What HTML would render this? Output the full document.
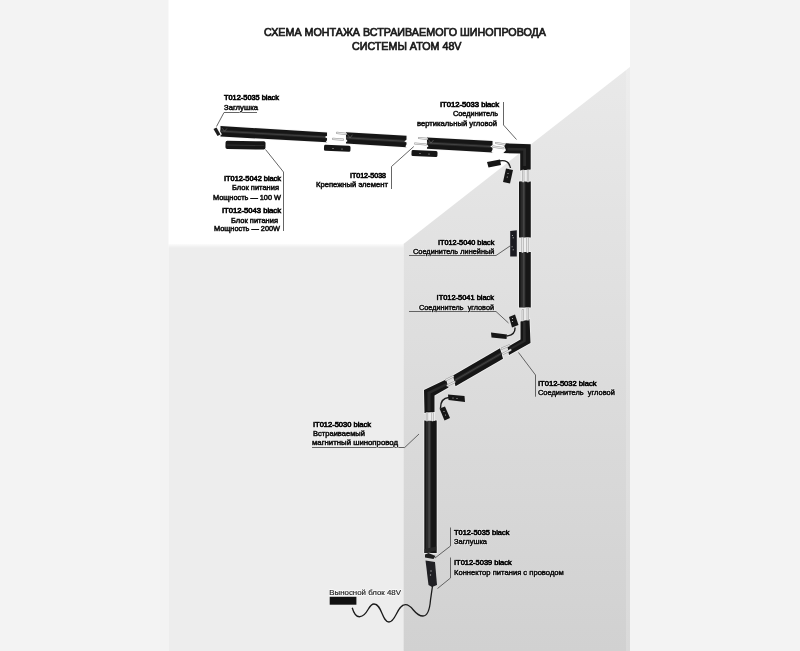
<!DOCTYPE html>
<html><head><meta charset="utf-8"><style>
html,body{margin:0;padding:0;width:800px;height:651px;overflow:hidden;background:#f2f2f2;font-family:"Liberation Sans",sans-serif;}
svg{display:block;will-change:transform}
</style></head><body>
<svg width="800" height="651" viewBox="0 0 800 651">
<defs><linearGradient id="rw" x1="0" y1="0" x2="0" y2="1"><stop offset="0" stop-color="#e9e9e9"/><stop offset="1" stop-color="#d1d1d1"/></linearGradient></defs>
<rect x="0" y="0" width="800" height="651" fill="#f3f3f3"/>
<rect x="168.5" y="0" width="461.5" height="651" fill="#ffffff"/>
<polygon points="168.5,244 403.5,244 403.5,651 168.5,651" fill="#ededed" />
<polygon points="403.5,244 630,67 630,651 403.5,651" fill="url(#rw)"/>
<rect x="626" y="67" width="4" height="584" fill="#ffffff" opacity="0.18"/>
<defs><linearGradient id="sh" x1="0" y1="0" x2="0" y2="1"><stop offset="0" stop-color="#fff" stop-opacity="0.8"/><stop offset="1" stop-color="#fff" stop-opacity="0"/></linearGradient></defs>
<rect x="168.5" y="244" width="235" height="4" fill="url(#sh)"/>
<polyline points="257,112.5 224,112.5 216.5,126.5" fill="none" stroke="#555555" stroke-width="0.9"/>
<polyline points="265.5,149.5 283.5,172 283.5,231" fill="none" stroke="#555555" stroke-width="0.9"/>
<polyline points="413.8,146.5 391.5,166.5 391.5,189" fill="none" stroke="#555555" stroke-width="0.9"/>
<polyline points="503.5,102 503.5,125 516.5,139.5" fill="none" stroke="#555555" stroke-width="0.9"/>
<polyline points="409,255.5 496,255.5 510,246" fill="none" stroke="#555555" stroke-width="0.9"/>
<polyline points="409,311.5 496,311.5 508.5,323" fill="none" stroke="#555555" stroke-width="0.9"/>
<polyline points="518.5,352.5 535.5,375 535.5,396.7" fill="none" stroke="#555555" stroke-width="0.9"/>
<polyline points="312,447.5 404.7,447.5 419,434" fill="none" stroke="#555555" stroke-width="0.9"/>
<polyline points="450.5,527.5 450.5,546 435,558" fill="none" stroke="#555555" stroke-width="0.9"/>
<polyline points="450.5,557.5 450.5,578 437.5,588.5" fill="none" stroke="#555555" stroke-width="0.9"/>
<polygon points="220.5,126 327,132.4 327,142.2 220.5,136.5" fill="none" stroke="#f4f4f4" stroke-width="1.6" stroke-linejoin="round" opacity="0.8"/>
<polygon points="220.5,126 327,132.4 327,142.2 220.5,136.5" fill="#161616" />
<polygon points="220.5,129.78 327,135.928 327,138.476 220.5,132.51" fill="#2a2a2a" />
<polygon points="220.5,130.725 327,136.81 327,137.594 220.5,131.565" fill="#444444" />
<polygon points="327.5,135.536 324.8,137.006 327.5,138.476" fill="#fff" />
<polygon points="327.5,139.75 325.8,141.475 327.5,142.7" fill="#fff" />
<polyline points="222,128.075 224.5,131.25 227,128.375" fill="none" stroke="#6a6a6a" stroke-width="0.6"/>
<polygon points="220,131.775 222,134.137 220,135.5" fill="#fff" />
<polygon points="213.5,129 216.5,127.5 220.5,134.5 217.5,136" fill="#1e1e1e" />
<polygon points="346,132.2 406.5,135.8 406.5,147.2 346,143.6" fill="none" stroke="#f4f4f4" stroke-width="1.6" stroke-linejoin="round" opacity="0.8"/>
<polygon points="346,132.2 406.5,135.8 406.5,147.2 346,143.6" fill="#161616" />
<polygon points="346,136.304 406.5,139.904 406.5,142.868 346,139.268" fill="#2a2a2a" />
<polygon points="346,137.33 406.5,140.93 406.5,141.842 346,138.242" fill="#444444" />
<polygon points="407,139.448 404.3,141.158 407,142.868" fill="#fff" />
<polygon points="407,144.35 405.3,146.275 407,147.7" fill="#fff" />
<polyline points="347.5,134.41 350,137.9 352.5,134.71" fill="none" stroke="#6a6a6a" stroke-width="0.6"/>
<polygon points="345.5,138.47 347.5,141.035 345.5,142.6" fill="#fff" />
<polygon points="427,137.5 492.5,141.1 492.5,152.4 427,148.8" fill="none" stroke="#f4f4f4" stroke-width="1.6" stroke-linejoin="round" opacity="0.8"/>
<polygon points="427,137.5 492.5,141.1 492.5,152.4 427,148.8" fill="#161616" />
<polygon points="427,141.568 492.5,145.168 492.5,148.106 427,144.506" fill="#2a2a2a" />
<polygon points="427,142.585 492.5,146.185 492.5,147.089 427,143.489" fill="#444444" />
<polygon points="493,144.716 490.3,146.411 493,148.106" fill="#fff" />
<polygon points="493,149.575 491.3,151.488 493,152.9" fill="#fff" />
<polyline points="428.5,139.695 431,143.15 433.5,139.995" fill="none" stroke="#6a6a6a" stroke-width="0.6"/>
<polygon points="426.5,143.715 428.5,146.257 426.5,147.8" fill="#fff" />
<polygon points="505.8,143.3 530.7,144.2 530.7,169.4 520.2,170.6 520.2,153.4 503.4,153.1 506,150.3 504.3,146" fill="none" stroke="#f4f4f4" stroke-width="1.6" opacity="0.8"/>
<polygon points="505.8,143.3 530.7,144.2 530.7,169.4 520.2,170.6 520.2,153.4 503.4,153.1 506,150.3 504.3,146" fill="#161616" />
<polygon points="507.5,147.8 526,148.2 526,166 523.2,166 523.2,150.6 507.5,150.4" fill="#2a2a2a" />
<polygon points="519,181.5 519,237.5 530.8,237.5 530.8,181.5" fill="none" stroke="#f4f4f4" stroke-width="1.6" stroke-linejoin="round" opacity="0.8"/>
<polygon points="519,181.5 519,237.5 530.8,237.5 530.8,181.5" fill="#161616" />
<polygon points="520.534,181.5 520.534,237.5 525.49,237.5 525.49,181.5" fill="#2a2a2a" />
<polygon points="522.776,181.5 522.776,237.5 524.546,237.5 524.546,181.5" fill="#444444" />
<polygon points="510.2,231 516.8,230.3 516.8,256.6 510.2,256.4" fill="#1a1a20" />
<circle cx="512.4" cy="235.5" r="0.55" fill="#ccc"/><circle cx="513.2" cy="237.7" r="0.55" fill="#ccc"/><circle cx="512.1" cy="246.8" r="0.55" fill="#ccc"/><circle cx="513.2" cy="249.8" r="0.55" fill="#ccc"/>
<polygon points="519,252 519,307.5 530.8,307.5 530.8,252" fill="none" stroke="#f4f4f4" stroke-width="1.6" stroke-linejoin="round" opacity="0.8"/>
<polygon points="519,252 519,307.5 530.8,307.5 530.8,252" fill="#161616" />
<polygon points="520.534,252 520.534,307.5 525.49,307.5 525.49,252" fill="#2a2a2a" />
<polygon points="522.776,252 522.776,307.5 524.546,307.5 524.546,252" fill="#444444" />
<polygon points="520.5,321.5 529.5,319 530.5,343 509,355 507.5,347 520.5,339.5" fill="none" stroke="#f4f4f4" stroke-width="1.6" opacity="0.8"/>
<polygon points="520.5,321.5 529.5,319 530.5,343 509,355 507.5,347 520.5,339.5" fill="#161616" />
<polygon points="523,322 525.5,321.5 525.8,341.5 509.8,350.6 509.2,348.4 523,340.5" fill="#2a2a2a" />
<polygon points="453,375.5 500,348.2 503,358.8 455.5,386.2" fill="none" stroke="#f4f4f4" stroke-width="1.6" stroke-linejoin="round" opacity="0.8"/>
<polygon points="453,375.5 500,348.2 503,358.8 455.5,386.2" fill="#161616" />
<polygon points="453.9,379.352 501.08,352.016 501.86,354.772 454.55,382.134" fill="#2a2a2a" />
<polygon points="454.125,380.315 501.35,352.97 501.59,353.818 454.325,381.171" fill="#444444" />
<polygon points="424,390 446,379.5 448.5,387.5 434.5,395.5 434.5,412 424.5,413" fill="none" stroke="#f4f4f4" stroke-width="1.6" opacity="0.8"/>
<polygon points="424,390 446,379.5 448.5,387.5 434.5,395.5 434.5,412 424.5,413" fill="#161616" />
<polygon points="427.5,392 446.5,383 447.2,385.2 430.5,393.5 430.5,411 427.5,411" fill="#2a2a2a" />
<polygon points="424.3,420.5 424.3,553 436.7,553 436.7,420.5" fill="none" stroke="#f4f4f4" stroke-width="1.6" stroke-linejoin="round" opacity="0.8"/>
<polygon points="424.3,420.5 424.3,553 436.7,553 436.7,420.5" fill="#161616" />
<polygon points="425.912,420.5 425.912,553 431.12,553 431.12,420.5" fill="#2a2a2a" />
<polygon points="428.268,420.5 428.268,553 430.128,553 430.128,420.5" fill="#444444" />
<polygon points="424.7,549 436.2,546.5 436.2,550.5 424.7,553" fill="#262626" />
<polygon points="425,554.5 428.5,553 435.5,556 433.5,559 425,557.5" fill="#1e1e1e" />
<polygon points="425.5,560.5 435,562 437,585 432,587 428.5,585" fill="#202024" />
<circle cx="431" cy="571" r="0.7" fill="#aaa"/><circle cx="430.5" cy="575" r="0.7" fill="#aaa"/>
<rect x="225.5" y="141" width="40" height="8.3" rx="1.8" fill="#161616" transform="rotate(1 245.5 145)"/>
<polygon points="227,144.5 264,145.2 264,146 227,145.5" fill="#333" />
<rect x="324" y="145.3" width="26.5" height="6" rx="1.5" fill="#161616" transform="rotate(2.5 337 148.3)"/>
<circle cx="333" cy="148.5" r="0.6" fill="#bbb"/><circle cx="342" cy="149" r="0.6" fill="#bbb"/>
<rect x="411.5" y="150.6" width="26" height="6" rx="1.5" fill="#161616" transform="rotate(2.5 424.5 153.6)"/>
<circle cx="420" cy="153.5" r="0.6" fill="#bbb"/><circle cx="429" cy="154" r="0.6" fill="#bbb"/>
<rect x="329.7" y="596.8" width="26.7" height="7.9" fill="#111"/>
<rect x="520.5" y="237.5" width="9" height="14.5" fill="#f2f2f2" opacity="0.75"/>
<rect x="520.5" y="307.5" width="9" height="13" fill="#f2f2f2" opacity="0.6"/>
<rect x="521" y="170" width="9" height="11.5" fill="#f2f2f2" opacity="0.6"/>
<rect x="425.5" y="412.5" width="9.5" height="8.5" fill="#f2f2f2" opacity="0.75"/>
<line x1="337" y1="132.8" x2="346" y2="133.8" stroke="#9a9a9a" stroke-width="2.2" stroke-linecap="round"/><line x1="337" y1="132.8" x2="346" y2="133.8" stroke="#e6e6e6" stroke-width="1.2" stroke-linecap="round"/><line x1="333" y1="138.8" x2="343" y2="139.6" stroke="#9a9a9a" stroke-width="2.2" stroke-linecap="round"/><line x1="333" y1="138.8" x2="343" y2="139.6" stroke="#e6e6e6" stroke-width="1.2" stroke-linecap="round"/><line x1="419" y1="138" x2="427" y2="138.8" stroke="#9a9a9a" stroke-width="2.2" stroke-linecap="round"/><line x1="419" y1="138" x2="427" y2="138.8" stroke="#e6e6e6" stroke-width="1.2" stroke-linecap="round"/><line x1="415" y1="143.5" x2="426" y2="144.5" stroke="#9a9a9a" stroke-width="2.2" stroke-linecap="round"/><line x1="415" y1="143.5" x2="426" y2="144.5" stroke="#e6e6e6" stroke-width="1.2" stroke-linecap="round"/><line x1="496" y1="143" x2="504.4" y2="144.3" stroke="#9a9a9a" stroke-width="2.2" stroke-linecap="round"/><line x1="496" y1="143" x2="504.4" y2="144.3" stroke="#e6e6e6" stroke-width="1.2" stroke-linecap="round"/><line x1="493.3" y1="146.6" x2="503.4" y2="148.2" stroke="#9a9a9a" stroke-width="2.2" stroke-linecap="round"/><line x1="493.3" y1="146.6" x2="503.4" y2="148.2" stroke="#e6e6e6" stroke-width="1.2" stroke-linecap="round"/><line x1="523.2" y1="170.5" x2="523.2" y2="181.5" stroke="#9a9a9a" stroke-width="2.2" stroke-linecap="round"/><line x1="523.2" y1="170.5" x2="523.2" y2="181.5" stroke="#e6e6e6" stroke-width="1.2" stroke-linecap="round"/><line x1="528" y1="170.5" x2="528" y2="181.5" stroke="#9a9a9a" stroke-width="2.2" stroke-linecap="round"/><line x1="528" y1="170.5" x2="528" y2="181.5" stroke="#e6e6e6" stroke-width="1.2" stroke-linecap="round"/><line x1="522.5" y1="238" x2="522.5" y2="252" stroke="#9a9a9a" stroke-width="2.2" stroke-linecap="round"/><line x1="522.5" y1="238" x2="522.5" y2="252" stroke="#e6e6e6" stroke-width="1.2" stroke-linecap="round"/><line x1="527.5" y1="238" x2="527.5" y2="252" stroke="#9a9a9a" stroke-width="2.2" stroke-linecap="round"/><line x1="527.5" y1="238" x2="527.5" y2="252" stroke="#e6e6e6" stroke-width="1.2" stroke-linecap="round"/><line x1="522.8" y1="310" x2="522.8" y2="320.5" stroke="#9a9a9a" stroke-width="2.2" stroke-linecap="round"/><line x1="522.8" y1="310" x2="522.8" y2="320.5" stroke="#e6e6e6" stroke-width="1.2" stroke-linecap="round"/><line x1="527.8" y1="308.5" x2="527.8" y2="319.5" stroke="#9a9a9a" stroke-width="2.2" stroke-linecap="round"/><line x1="527.8" y1="308.5" x2="527.8" y2="319.5" stroke="#e6e6e6" stroke-width="1.2" stroke-linecap="round"/><line x1="502" y1="348.5" x2="509" y2="345.5" stroke="#9a9a9a" stroke-width="2.2" stroke-linecap="round"/><line x1="502" y1="348.5" x2="509" y2="345.5" stroke="#e6e6e6" stroke-width="1.2" stroke-linecap="round"/><line x1="503.5" y1="353.5" x2="510.5" y2="350" stroke="#9a9a9a" stroke-width="2.2" stroke-linecap="round"/><line x1="503.5" y1="353.5" x2="510.5" y2="350" stroke="#e6e6e6" stroke-width="1.2" stroke-linecap="round"/><line x1="446" y1="380" x2="453" y2="376.5" stroke="#9a9a9a" stroke-width="2.2" stroke-linecap="round"/><line x1="446" y1="380" x2="453" y2="376.5" stroke="#e6e6e6" stroke-width="1.2" stroke-linecap="round"/><line x1="447.5" y1="385.5" x2="454.5" y2="382" stroke="#9a9a9a" stroke-width="2.2" stroke-linecap="round"/><line x1="447.5" y1="385.5" x2="454.5" y2="382" stroke="#e6e6e6" stroke-width="1.2" stroke-linecap="round"/><line x1="427" y1="413" x2="427" y2="420.5" stroke="#9a9a9a" stroke-width="2.2" stroke-linecap="round"/><line x1="427" y1="413" x2="427" y2="420.5" stroke="#e6e6e6" stroke-width="1.2" stroke-linecap="round"/><line x1="432.5" y1="413" x2="432.5" y2="420.5" stroke="#9a9a9a" stroke-width="2.2" stroke-linecap="round"/><line x1="432.5" y1="413" x2="432.5" y2="420.5" stroke="#e6e6e6" stroke-width="1.2" stroke-linecap="round"/>
<path d="M499,161 Q509,159 510.5,168" fill="none" stroke="#1a1a1a" stroke-width="1.4"/>
<path d="M515,327.5 Q515.5,335 507,336" fill="none" stroke="#1a1a1a" stroke-width="1.4"/>
<path d="M449,397.5 Q440.5,398 440.5,408" fill="none" stroke="#1a1a1a" stroke-width="1.4"/>
<path d="M352.2,607.7 C354,614 357,617 360,616.7 C368,616 368,604 374,604 C382,604 382,622 389,622 C396,622 397,604.7 405.5,604.7 C413,604.7 414,616 423,616 C429,616 430,606 430.5,600 L432.5,586" fill="none" stroke="#1a1a1a" stroke-width="1.3"/>
<polygon points="487,162 500,159.5 501,165 488.5,167.5" fill="#161616" />
<polygon points="506,168.5 513,170 510,183.5 503,182" fill="#161616" />
<circle cx="508" cy="173.5" r="0.6" fill="#bbb"/><circle cx="507.3" cy="177" r="0.6" fill="#bbb"/>
<polygon points="509,317 515,314.5 518.5,325 512,327.5" fill="#161616" />
<circle cx="512.5" cy="318.5" r="0.6" fill="#ccc"/><circle cx="512.5" cy="321.5" r="0.6" fill="#ccc"/>
<polygon points="491,332.5 507,334.5 506.5,339 491.5,337.5" fill="#161616" />
<polygon points="448,394.5 464.5,396 465,402 448.5,400" fill="#161616" />
<circle cx="453" cy="398" r="0.6" fill="#bbb"/><circle cx="457" cy="398.5" r="0.6" fill="#bbb"/>
<polygon points="439.5,408.5 445,406.5 450,418 444.5,420.5" fill="#161616" />
<circle cx="444" cy="411.5" r="0.6" fill="#bbb"/><circle cx="445.5" cy="415" r="0.6" fill="#bbb"/>
<text x="264" y="36.4" textLength="282" lengthAdjust="spacingAndGlyphs" xml:space="preserve" style="white-space:pre" font-family='"Liberation Sans", sans-serif' font-weight="normal" font-size="11" fill="#fff" stroke="#fff" stroke-width="1.6" stroke-linejoin="round" opacity="0.85">СХЕМА МОНТАЖА ВСТРАИВАЕМОГО ШИНОПРОВОДА</text>
<text x="264" y="36.4" textLength="282" lengthAdjust="spacingAndGlyphs" xml:space="preserve" style="white-space:pre" font-family='"Liberation Sans", sans-serif' font-weight="normal" font-size="11" fill="#1a1a1a" stroke="#1a1a1a" stroke-width="0.7">СХЕМА МОНТАЖА ВСТРАИВАЕМОГО ШИНОПРОВОДА</text>
<text x="352" y="50.4" textLength="109.5" lengthAdjust="spacingAndGlyphs" xml:space="preserve" style="white-space:pre" font-family='"Liberation Sans", sans-serif' font-weight="normal" font-size="11" fill="#fff" stroke="#fff" stroke-width="1.6" stroke-linejoin="round" opacity="0.85">СИСТЕМЫ АТОМ 48V</text>
<text x="352" y="50.4" textLength="109.5" lengthAdjust="spacingAndGlyphs" xml:space="preserve" style="white-space:pre" font-family='"Liberation Sans", sans-serif' font-weight="normal" font-size="11" fill="#1a1a1a" stroke="#1a1a1a" stroke-width="0.7">СИСТЕМЫ АТОМ 48V</text>
<text x="224" y="100.4" textLength="55" lengthAdjust="spacingAndGlyphs" xml:space="preserve" style="white-space:pre" font-family='"Liberation Sans", sans-serif' font-weight="normal" font-size="7.8" fill="#fff" stroke="#fff" stroke-width="1.6" stroke-linejoin="round" opacity="0.85">T012-5035 black</text>
<text x="224" y="100.4" textLength="55" lengthAdjust="spacingAndGlyphs" xml:space="preserve" style="white-space:pre" font-family='"Liberation Sans", sans-serif' font-weight="normal" font-size="7.8" fill="#0a0a0a" stroke="#0a0a0a" stroke-width="0.72">T012-5035 black</text>
<text x="224" y="109.9" textLength="34" lengthAdjust="spacingAndGlyphs" xml:space="preserve" style="white-space:pre" font-family='"Liberation Sans", sans-serif' font-weight="normal" font-size="7.8" fill="#fff" stroke="#fff" stroke-width="1.6" stroke-linejoin="round" opacity="0.85">Заглушка</text>
<text x="224" y="109.9" textLength="34" lengthAdjust="spacingAndGlyphs" xml:space="preserve" style="white-space:pre" font-family='"Liberation Sans", sans-serif' font-weight="normal" font-size="7.8" fill="#111111" stroke="#111111" stroke-width="0.55">Заглушка</text>
<text x="224" y="180.9" textLength="57" lengthAdjust="spacingAndGlyphs" xml:space="preserve" style="white-space:pre" font-family='"Liberation Sans", sans-serif' font-weight="normal" font-size="7.8" fill="#fff" stroke="#fff" stroke-width="1.6" stroke-linejoin="round" opacity="0.85">IT012-5042 black</text>
<text x="224" y="180.9" textLength="57" lengthAdjust="spacingAndGlyphs" xml:space="preserve" style="white-space:pre" font-family='"Liberation Sans", sans-serif' font-weight="normal" font-size="7.8" fill="#0a0a0a" stroke="#0a0a0a" stroke-width="0.72">IT012-5042 black</text>
<text x="232" y="190.4" textLength="47" lengthAdjust="spacingAndGlyphs" xml:space="preserve" style="white-space:pre" font-family='"Liberation Sans", sans-serif' font-weight="normal" font-size="7.8" fill="#fff" stroke="#fff" stroke-width="1.6" stroke-linejoin="round" opacity="0.85">Блок питания</text>
<text x="232" y="190.4" textLength="47" lengthAdjust="spacingAndGlyphs" xml:space="preserve" style="white-space:pre" font-family='"Liberation Sans", sans-serif' font-weight="normal" font-size="7.8" fill="#111111" stroke="#111111" stroke-width="0.55">Блок питания</text>
<text x="213" y="200.4" textLength="68" lengthAdjust="spacingAndGlyphs" xml:space="preserve" style="white-space:pre" font-family='"Liberation Sans", sans-serif' font-weight="normal" font-size="7.8" fill="#fff" stroke="#fff" stroke-width="1.6" stroke-linejoin="round" opacity="0.85">Мощность — 100 W</text>
<text x="213" y="200.4" textLength="68" lengthAdjust="spacingAndGlyphs" xml:space="preserve" style="white-space:pre" font-family='"Liberation Sans", sans-serif' font-weight="normal" font-size="7.8" fill="#111111" stroke="#111111" stroke-width="0.55">Мощность — 100 W</text>
<text x="222" y="213.4" textLength="59" lengthAdjust="spacingAndGlyphs" xml:space="preserve" style="white-space:pre" font-family='"Liberation Sans", sans-serif' font-weight="normal" font-size="7.8" fill="#fff" stroke="#fff" stroke-width="1.6" stroke-linejoin="round" opacity="0.85">IT012-5043 black</text>
<text x="222" y="213.4" textLength="59" lengthAdjust="spacingAndGlyphs" xml:space="preserve" style="white-space:pre" font-family='"Liberation Sans", sans-serif' font-weight="normal" font-size="7.8" fill="#0a0a0a" stroke="#0a0a0a" stroke-width="0.72">IT012-5043 black</text>
<text x="231" y="222.9" textLength="47" lengthAdjust="spacingAndGlyphs" xml:space="preserve" style="white-space:pre" font-family='"Liberation Sans", sans-serif' font-weight="normal" font-size="7.8" fill="#fff" stroke="#fff" stroke-width="1.6" stroke-linejoin="round" opacity="0.85">Блок питания</text>
<text x="231" y="222.9" textLength="47" lengthAdjust="spacingAndGlyphs" xml:space="preserve" style="white-space:pre" font-family='"Liberation Sans", sans-serif' font-weight="normal" font-size="7.8" fill="#111111" stroke="#111111" stroke-width="0.55">Блок питания</text>
<text x="214" y="231.4" textLength="66" lengthAdjust="spacingAndGlyphs" xml:space="preserve" style="white-space:pre" font-family='"Liberation Sans", sans-serif' font-weight="normal" font-size="7.8" fill="#fff" stroke="#fff" stroke-width="1.6" stroke-linejoin="round" opacity="0.85">Мощность — 200W</text>
<text x="214" y="231.4" textLength="66" lengthAdjust="spacingAndGlyphs" xml:space="preserve" style="white-space:pre" font-family='"Liberation Sans", sans-serif' font-weight="normal" font-size="7.8" fill="#111111" stroke="#111111" stroke-width="0.55">Мощность — 200W</text>
<text x="350" y="177.9" textLength="36" lengthAdjust="spacingAndGlyphs" xml:space="preserve" style="white-space:pre" font-family='"Liberation Sans", sans-serif' font-weight="normal" font-size="7.8" fill="#fff" stroke="#fff" stroke-width="1.6" stroke-linejoin="round" opacity="0.85">IT012-5038</text>
<text x="350" y="177.9" textLength="36" lengthAdjust="spacingAndGlyphs" xml:space="preserve" style="white-space:pre" font-family='"Liberation Sans", sans-serif' font-weight="normal" font-size="7.8" fill="#0a0a0a" stroke="#0a0a0a" stroke-width="0.72">IT012-5038</text>
<text x="316" y="186.9" textLength="72" lengthAdjust="spacingAndGlyphs" xml:space="preserve" style="white-space:pre" font-family='"Liberation Sans", sans-serif' font-weight="normal" font-size="7.8" fill="#fff" stroke="#fff" stroke-width="1.6" stroke-linejoin="round" opacity="0.85">Крепежный элемент</text>
<text x="316" y="186.9" textLength="72" lengthAdjust="spacingAndGlyphs" xml:space="preserve" style="white-space:pre" font-family='"Liberation Sans", sans-serif' font-weight="normal" font-size="7.8" fill="#111111" stroke="#111111" stroke-width="0.55">Крепежный элемент</text>
<text x="440" y="107.4" textLength="59" lengthAdjust="spacingAndGlyphs" xml:space="preserve" style="white-space:pre" font-family='"Liberation Sans", sans-serif' font-weight="normal" font-size="7.8" fill="#fff" stroke="#fff" stroke-width="1.6" stroke-linejoin="round" opacity="0.85">IT012-5033 black</text>
<text x="440" y="107.4" textLength="59" lengthAdjust="spacingAndGlyphs" xml:space="preserve" style="white-space:pre" font-family='"Liberation Sans", sans-serif' font-weight="normal" font-size="7.8" fill="#0a0a0a" stroke="#0a0a0a" stroke-width="0.72">IT012-5033 black</text>
<text x="453" y="116.4" textLength="45" lengthAdjust="spacingAndGlyphs" xml:space="preserve" style="white-space:pre" font-family='"Liberation Sans", sans-serif' font-weight="normal" font-size="7.8" fill="#fff" stroke="#fff" stroke-width="1.6" stroke-linejoin="round" opacity="0.85">Соединитель</text>
<text x="453" y="116.4" textLength="45" lengthAdjust="spacingAndGlyphs" xml:space="preserve" style="white-space:pre" font-family='"Liberation Sans", sans-serif' font-weight="normal" font-size="7.8" fill="#111111" stroke="#111111" stroke-width="0.55">Соединитель</text>
<text x="417" y="125.9" textLength="80" lengthAdjust="spacingAndGlyphs" xml:space="preserve" style="white-space:pre" font-family='"Liberation Sans", sans-serif' font-weight="normal" font-size="7.8" fill="#fff" stroke="#fff" stroke-width="1.6" stroke-linejoin="round" opacity="0.85">вертикальный угловой</text>
<text x="417" y="125.9" textLength="80" lengthAdjust="spacingAndGlyphs" xml:space="preserve" style="white-space:pre" font-family='"Liberation Sans", sans-serif' font-weight="normal" font-size="7.8" fill="#111111" stroke="#111111" stroke-width="0.55">вертикальный угловой</text>
<text x="438" y="244.8" textLength="56.4" lengthAdjust="spacingAndGlyphs" xml:space="preserve" style="white-space:pre" font-family='"Liberation Sans", sans-serif' font-weight="normal" font-size="7.8" fill="#fff" stroke="#fff" stroke-width="1.6" stroke-linejoin="round" opacity="0.85">IT012-5040 black</text>
<text x="438" y="244.8" textLength="56.4" lengthAdjust="spacingAndGlyphs" xml:space="preserve" style="white-space:pre" font-family='"Liberation Sans", sans-serif' font-weight="normal" font-size="7.8" fill="#0a0a0a" stroke="#0a0a0a" stroke-width="0.72">IT012-5040 black</text>
<text x="413" y="254.4" textLength="81.4" lengthAdjust="spacingAndGlyphs" xml:space="preserve" style="white-space:pre" font-family='"Liberation Sans", sans-serif' font-weight="normal" font-size="7.8" fill="#fff" stroke="#fff" stroke-width="1.6" stroke-linejoin="round" opacity="0.85">Соединитель линейный</text>
<text x="413" y="254.4" textLength="81.4" lengthAdjust="spacingAndGlyphs" xml:space="preserve" style="white-space:pre" font-family='"Liberation Sans", sans-serif' font-weight="normal" font-size="7.8" fill="#111111" stroke="#111111" stroke-width="0.55">Соединитель линейный</text>
<text x="436.6" y="299.8" textLength="57.4" lengthAdjust="spacingAndGlyphs" xml:space="preserve" style="white-space:pre" font-family='"Liberation Sans", sans-serif' font-weight="normal" font-size="7.8" fill="#fff" stroke="#fff" stroke-width="1.6" stroke-linejoin="round" opacity="0.85">IT012-5041 black</text>
<text x="436.6" y="299.8" textLength="57.4" lengthAdjust="spacingAndGlyphs" xml:space="preserve" style="white-space:pre" font-family='"Liberation Sans", sans-serif' font-weight="normal" font-size="7.8" fill="#0a0a0a" stroke="#0a0a0a" stroke-width="0.72">IT012-5041 black</text>
<text x="419" y="309.8" textLength="75" lengthAdjust="spacingAndGlyphs" xml:space="preserve" style="white-space:pre" font-family='"Liberation Sans", sans-serif' font-weight="normal" font-size="7.8" fill="#fff" stroke="#fff" stroke-width="1.6" stroke-linejoin="round" opacity="0.85">Соединитель  угловой</text>
<text x="419" y="309.8" textLength="75" lengthAdjust="spacingAndGlyphs" xml:space="preserve" style="white-space:pre" font-family='"Liberation Sans", sans-serif' font-weight="normal" font-size="7.8" fill="#111111" stroke="#111111" stroke-width="0.55">Соединитель  угловой</text>
<text x="538" y="386.2" textLength="58.5" lengthAdjust="spacingAndGlyphs" xml:space="preserve" style="white-space:pre" font-family='"Liberation Sans", sans-serif' font-weight="normal" font-size="7.8" fill="#fff" stroke="#fff" stroke-width="1.6" stroke-linejoin="round" opacity="0.85">IT012-5032 black</text>
<text x="538" y="386.2" textLength="58.5" lengthAdjust="spacingAndGlyphs" xml:space="preserve" style="white-space:pre" font-family='"Liberation Sans", sans-serif' font-weight="normal" font-size="7.8" fill="#0a0a0a" stroke="#0a0a0a" stroke-width="0.72">IT012-5032 black</text>
<text x="538" y="395.2" textLength="76.8" lengthAdjust="spacingAndGlyphs" xml:space="preserve" style="white-space:pre" font-family='"Liberation Sans", sans-serif' font-weight="normal" font-size="7.8" fill="#fff" stroke="#fff" stroke-width="1.6" stroke-linejoin="round" opacity="0.85">Соединитель  угловой</text>
<text x="538" y="395.2" textLength="76.8" lengthAdjust="spacingAndGlyphs" xml:space="preserve" style="white-space:pre" font-family='"Liberation Sans", sans-serif' font-weight="normal" font-size="7.8" fill="#111111" stroke="#111111" stroke-width="0.55">Соединитель  угловой</text>
<text x="313" y="427.4" textLength="58" lengthAdjust="spacingAndGlyphs" xml:space="preserve" style="white-space:pre" font-family='"Liberation Sans", sans-serif' font-weight="normal" font-size="7.8" fill="#fff" stroke="#fff" stroke-width="1.6" stroke-linejoin="round" opacity="0.85">IT012-5030 black</text>
<text x="313" y="427.4" textLength="58" lengthAdjust="spacingAndGlyphs" xml:space="preserve" style="white-space:pre" font-family='"Liberation Sans", sans-serif' font-weight="normal" font-size="7.8" fill="#0a0a0a" stroke="#0a0a0a" stroke-width="0.72">IT012-5030 black</text>
<text x="313" y="436.4" textLength="52" lengthAdjust="spacingAndGlyphs" xml:space="preserve" style="white-space:pre" font-family='"Liberation Sans", sans-serif' font-weight="normal" font-size="7.8" fill="#fff" stroke="#fff" stroke-width="1.6" stroke-linejoin="round" opacity="0.85">Встраиваемый</text>
<text x="313" y="436.4" textLength="52" lengthAdjust="spacingAndGlyphs" xml:space="preserve" style="white-space:pre" font-family='"Liberation Sans", sans-serif' font-weight="normal" font-size="7.8" fill="#111111" stroke="#111111" stroke-width="0.55">Встраиваемый</text>
<text x="312" y="445.4" textLength="86" lengthAdjust="spacingAndGlyphs" xml:space="preserve" style="white-space:pre" font-family='"Liberation Sans", sans-serif' font-weight="normal" font-size="7.8" fill="#fff" stroke="#fff" stroke-width="1.6" stroke-linejoin="round" opacity="0.85">магнитный шинопровод</text>
<text x="312" y="445.4" textLength="86" lengthAdjust="spacingAndGlyphs" xml:space="preserve" style="white-space:pre" font-family='"Liberation Sans", sans-serif' font-weight="normal" font-size="7.8" fill="#111111" stroke="#111111" stroke-width="0.55">магнитный шинопровод</text>
<text x="454" y="535.4" textLength="55.4" lengthAdjust="spacingAndGlyphs" xml:space="preserve" style="white-space:pre" font-family='"Liberation Sans", sans-serif' font-weight="normal" font-size="7.8" fill="#fff" stroke="#fff" stroke-width="1.6" stroke-linejoin="round" opacity="0.85">T012-5035 black</text>
<text x="454" y="535.4" textLength="55.4" lengthAdjust="spacingAndGlyphs" xml:space="preserve" style="white-space:pre" font-family='"Liberation Sans", sans-serif' font-weight="normal" font-size="7.8" fill="#0a0a0a" stroke="#0a0a0a" stroke-width="0.72">T012-5035 black</text>
<text x="454" y="544.4" textLength="33" lengthAdjust="spacingAndGlyphs" xml:space="preserve" style="white-space:pre" font-family='"Liberation Sans", sans-serif' font-weight="normal" font-size="7.8" fill="#fff" stroke="#fff" stroke-width="1.6" stroke-linejoin="round" opacity="0.85">Заглушка</text>
<text x="454" y="544.4" textLength="33" lengthAdjust="spacingAndGlyphs" xml:space="preserve" style="white-space:pre" font-family='"Liberation Sans", sans-serif' font-weight="normal" font-size="7.8" fill="#111111" stroke="#111111" stroke-width="0.55">Заглушка</text>
<text x="454" y="565.4" textLength="57.7" lengthAdjust="spacingAndGlyphs" xml:space="preserve" style="white-space:pre" font-family='"Liberation Sans", sans-serif' font-weight="normal" font-size="7.8" fill="#fff" stroke="#fff" stroke-width="1.6" stroke-linejoin="round" opacity="0.85">IT012-5039 black</text>
<text x="454" y="565.4" textLength="57.7" lengthAdjust="spacingAndGlyphs" xml:space="preserve" style="white-space:pre" font-family='"Liberation Sans", sans-serif' font-weight="normal" font-size="7.8" fill="#0a0a0a" stroke="#0a0a0a" stroke-width="0.72">IT012-5039 black</text>
<text x="454" y="575" textLength="109.8" lengthAdjust="spacingAndGlyphs" xml:space="preserve" style="white-space:pre" font-family='"Liberation Sans", sans-serif' font-weight="normal" font-size="7.8" fill="#fff" stroke="#fff" stroke-width="1.6" stroke-linejoin="round" opacity="0.85">Коннектор питания с проводом</text>
<text x="454" y="575" textLength="109.8" lengthAdjust="spacingAndGlyphs" xml:space="preserve" style="white-space:pre" font-family='"Liberation Sans", sans-serif' font-weight="normal" font-size="7.8" fill="#111111" stroke="#111111" stroke-width="0.55">Коннектор питания с проводом</text>
<text x="329.3" y="594.6" textLength="71.7" lengthAdjust="spacingAndGlyphs" xml:space="preserve" style="white-space:pre" font-family='"Liberation Sans", sans-serif' font-weight="normal" font-size="7.8" fill="#fff" stroke="#fff" stroke-width="1.6" stroke-linejoin="round" opacity="0.85">Выносной блок 48V</text>
<text x="329.3" y="594.6" textLength="71.7" lengthAdjust="spacingAndGlyphs" xml:space="preserve" style="white-space:pre" font-family='"Liberation Sans", sans-serif' font-weight="normal" font-size="7.8" fill="#262626" stroke="#262626" stroke-width="0.2">Выносной блок 48V</text>
</svg>
</body></html>
